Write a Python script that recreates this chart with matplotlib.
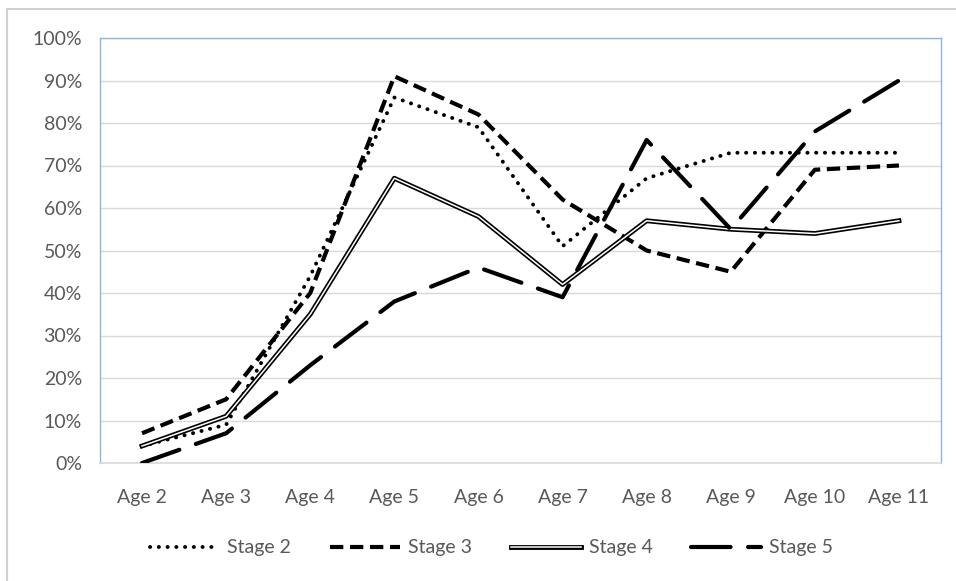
import matplotlib
matplotlib.use("Agg")
from matplotlib import pyplot as plt
from matplotlib import patheffects as pe
from matplotlib.patches import Rectangle
from matplotlib.ticker import FuncFormatter

ages = ["Age 2", "Age 3", "Age 4", "Age 5", "Age 6", "Age 7", "Age 8", "Age 9", "Age 10", "Age 11"]
stage2 = [0.04, 0.09, 0.44, 0.86, 0.79, 0.51, 0.67, 0.73, 0.73, 0.73]
stage3 = [0.07, 0.15, 0.40, 0.91, 0.82, 0.62, 0.50, 0.45, 0.69, 0.70]
stage4 = [0.04, 0.11, 0.35, 0.67, 0.58, 0.42, 0.57, 0.55, 0.54, 0.57]
stage5 = [0.00, 0.07, 0.23, 0.38, 0.46, 0.39, 0.76, 0.55, 0.78, 0.90]

plt.rcParams["font.family"] = ["Lato", "DejaVu Sans"]
txt_color = "#595959"

fig = plt.figure(figsize=(9.56, 5.81), dpi=100)
# light outer chart border
fig.patches.append(Rectangle((7 / 956, -0.1), 1.2, 1 - 9 / 581 + 0.1, transform=fig.transFigure,
                             fill=False, edgecolor="#d0d0d0", linewidth=1.5))
ax = fig.add_axes([100 / 956, 1 - 463 / 581, 841 / 956, 425 / 581])

x = list(range(len(ages)))
ax.plot(x, stage2, color="black", lw=2.8, linestyle=(0, (0.05, 2.2)),
        dash_capstyle="round", label="Stage 2", zorder=3)
ax.plot(x, stage3, color="black", lw=3.0, linestyle=(0, (3.2, 1.6)),
        dash_capstyle="butt", label="Stage 3", zorder=3)
ax.plot(x, stage4, color="white", lw=1.1, label="Stage 4", zorder=3,
        path_effects=[pe.Stroke(linewidth=3.5, foreground="black"), pe.Normal()])
ax.plot(x, stage5, color="black", lw=3.0, linestyle=(0, (9.5, 4.2)),
        dash_capstyle="round", label="Stage 5", zorder=3)

ax.set_xlim(-0.5, len(ages) - 0.5)
ax.set_ylim(0, 1)
ax.set_xticks(x)
ax.set_xticklabels(ages)
ax.set_yticks([i / 10 for i in range(11)])
ax.yaxis.set_major_formatter(FuncFormatter(lambda v, p: f"{v * 100:.0f}%"))
ax.tick_params(axis="both", length=0, labelsize=14, colors=txt_color)
ax.tick_params(axis="x", pad=19)
ax.tick_params(axis="y", pad=13)
ax.grid(axis="y", color="#d9d9d9", lw=1)
ax.set_axisbelow(True)
for s in ["left", "top", "right"]:
    ax.spines[s].set_color("#8eb4e3")
    ax.spines[s].set_linewidth(1)
ax.spines["bottom"].set_color("#d9d9d9")
ax.spines["bottom"].set_linewidth(1.2)

leg = fig.legend(loc="center", bbox_to_anchor=(0.514, 1 - 548 / 581), ncol=4, frameon=False,
                 fontsize=14, handlelength=3.6, handletextpad=0.4, columnspacing=2.0)
for t in leg.get_texts():
    t.set_color(txt_color)

plt.savefig("out.png", dpi=100)
